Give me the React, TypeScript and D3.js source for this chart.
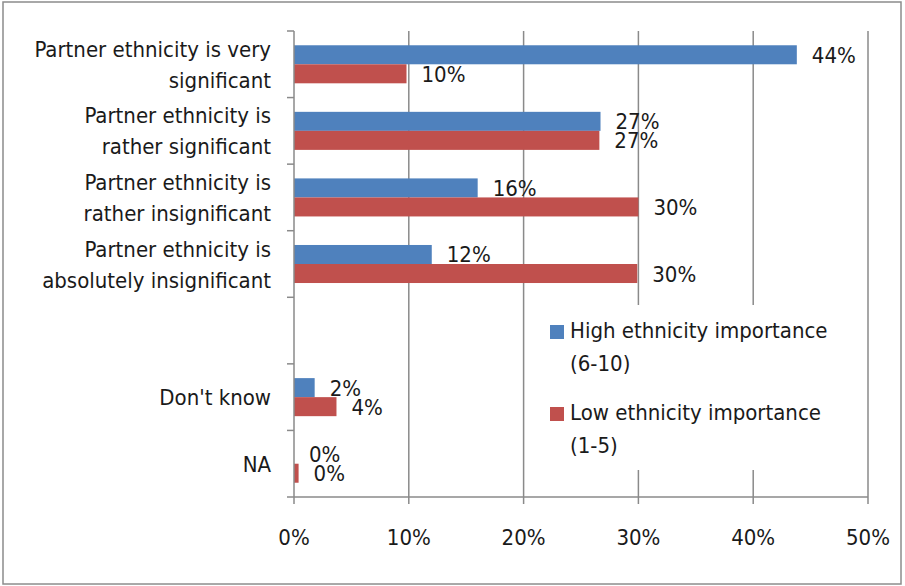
import React from "react";
import * as d3 from "d3";

const categoryLines: string[][] = [
  ["Partner ethnicity is very", "significant"],
  ["Partner ethnicity is", "rather significant"],
  ["Partner ethnicity is", "rather insignificant"],
  ["Partner ethnicity is", "absolutely insignificant"],
  [],
  ["Don't know"],
  ["NA"],
];
const highValues: (number | null)[] = [43.8, 26.7, 16.0, 12.0, null, 1.8, 0];
const lowValues: (number | null)[] = [9.8, 26.6, 30.0, 29.9, null, 3.7, 0.4];
const seriesKeys = ["high", "low"];
const seriesColors = ["#4F81BD", "#C0504D"];
const legendLines: string[][] = [
  ["High ethnicity importance", "(6-10)"],
  ["Low ethnicity importance", "(1-5)"],
];
const xTicks = [0, 10, 20, 30, 40, 50];

const W = 905;
const H = 586;
const M = { left: 294, right: 868, top: 31, bottom: 497 };
const FONT = "'Liberation Sans Narrow', 'DejaVu Sans Condensed', 'Roboto', sans-serif";
const TEXT = "#1a1a1a";
const GRID = "#8a8a8a";

export default function App() {
  const x = d3.scaleLinear().domain([0, 50]).range([M.left, M.right]);
  const idx = categoryLines.map((_, i) => String(i));
  const y = d3.scaleBand().domain(idx).range([M.top, M.bottom]).paddingInner(0).paddingOuter(0);
  const y1 = d3.scaleBand().domain(seriesKeys).range([0, y.bandwidth()]).paddingInner(0).paddingOuter(0.75);
  const series = [highValues, lowValues];
  const fmt = (v: number) => d3.format(".0f")(v) + "%";
  const boundaries = d3.range(categoryLines.length + 1).map((i) => M.top + i * y.step());

  return (
    <svg width={W} height={H} style={{ position: "absolute", left: 0, top: 0, background: "#fff" }} fontFamily={FONT}>
      <rect x={0} y={0} width={W} height={H} fill="#fff" />
      <rect x={3} y={2} width={898} height={582} fill="none" stroke="#8c8c8c" strokeWidth={1.5} />
      {/* gridlines */}
      {xTicks.slice(1).map((t) => (
        <line key={"g" + t} x1={x(t)} x2={x(t)} y1={M.top} y2={M.bottom} stroke={GRID} strokeWidth={1.5} />
      ))}
      {/* bars */}
      {series.map((vals, s) =>
        vals.map((v, i) =>
          v === null ? null : (
            <rect
              key={`b${s}-${i}`}
              x={x(0)}
              y={(y(String(i)) as number) + (y1(seriesKeys[s]) as number)}
              width={x(v) - x(0)}
              height={y1.bandwidth()}
              fill={seriesColors[s]}
            />
          )
        )
      )}
      {/* value labels */}
      {series.map((vals, s) =>
        vals.map((v, i) =>
          v === null ? null : (
            <text
              key={`l${s}-${i}`}
              x={x(v) + 15}
              y={(y(String(i)) as number) + (y1(seriesKeys[s]) as number) + y1.bandwidth() / 2 + 8}
              fontSize={22}
              fill={TEXT}
            >
              {fmt(v)}
            </text>
          )
        )
      )}
      {/* legend */}
      <rect x={532} y={305} width={330} height={165} fill="#fff" />
      {legendLines.map((lines, s) => (
        <g key={"lg" + s} transform={`translate(550, ${325 + s * 82})`}>
          <rect x={0} y={0} width={14} height={14} fill={seriesColors[s]} />
          {lines.map((t, j) => (
            <text key={j} x={20} y={13 + j * 33} fontSize={22} fill={TEXT}>
              {t}
            </text>
          ))}
        </g>
      ))}
      {/* y axis */}
      <line x1={M.left} x2={M.left} y1={M.top} y2={M.bottom} stroke={GRID} strokeWidth={1.5} />
      {boundaries.map((b, i) => (
        <line key={"yt" + i} x1={M.left - 7} x2={M.left} y1={b} y2={b} stroke={GRID} strokeWidth={1.5} />
      ))}
      {categoryLines.map((lines, i) => {
        const c = (y(String(i)) as number) + y.bandwidth() / 2;
        return lines.map((t, j) => (
          <text
            key={`c${i}-${j}`}
            x={271}
            y={c + (j - (lines.length - 1) / 2) * 31 + 8}
            textAnchor="end"
            fontSize={22}
            fill={TEXT}
          >
            {t}
          </text>
        ));
      })}
      {/* x axis */}
      <line x1={M.left} x2={M.right} y1={M.bottom} y2={M.bottom} stroke={GRID} strokeWidth={1.5} />
      {xTicks.map((t) => (
        <g key={"xt" + t}>
          <line x1={x(t)} x2={x(t)} y1={M.bottom} y2={M.bottom + 7} stroke={GRID} strokeWidth={1.5} />
          <text x={x(t)} y={545} textAnchor="middle" fontSize={22} fill={TEXT}>
            {t + "%"}
          </text>
        </g>
      ))}
    </svg>
  );
}
